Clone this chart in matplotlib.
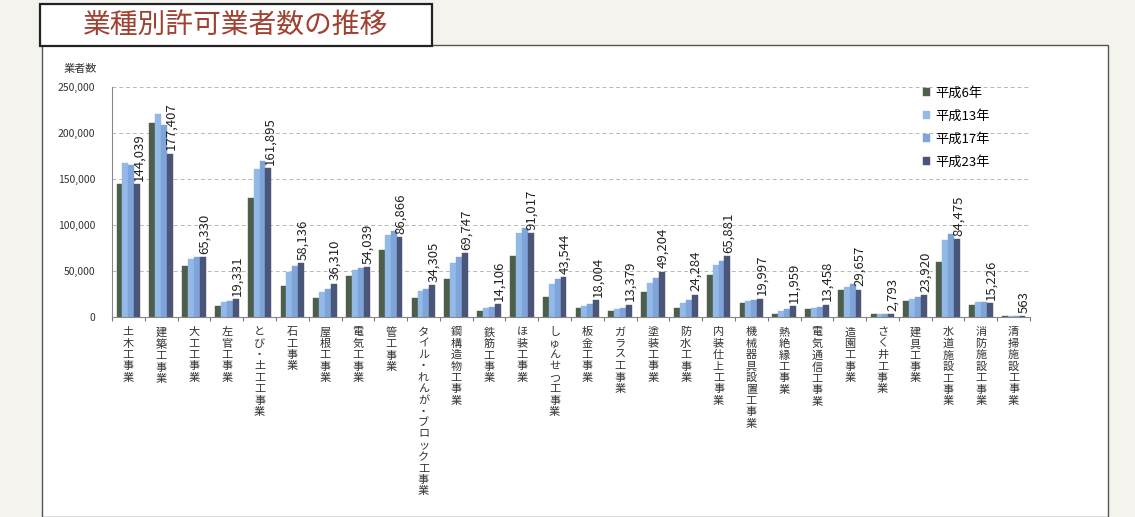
import matplotlib.pyplot as plt
import numpy as np
from matplotlib.patches import Rectangle

plt.rcParams['font.family'] = ['Noto Sans CJK JP', 'DejaVu Sans']

# 業種 (28 種)
categories = [
    '土木工事業', '建築工事業', '大工工事業', '左官工事業', 'とび・土工工事業',
    '石工事業', '屋根工事業', '電気工事業', '管工事業', 'タイル・れんが・ブロック工事業',
    '鋼構造物工事業', '鉄筋工事業', 'ほ装工事業', 'しゅんせつ工事業', '板金工事業',
    'ガラス工事業', '塗装工事業', '防水工事業', '内装仕上工事業', '機械器具設置工事業',
    '熱絶縁工事業', '電気通信工事業', '造園工事業', 'さく井工事業', '建具工事業',
    '水道施設工事業', '消防施設工事業', '清掃施設工事業',
]

series_names = ['平成6年', '平成13年', '平成17年', '平成23年']

h6 = [144000, 211000, 55600, 12300, 129700, 33600, 21000, 44400, 72600, 21000,
      40800, 6900, 66500, 22000, 9400, 6800, 27500, 9400, 45500, 14800,
      3300, 8300, 29300, 2900, 17300, 60000, 13000, 600]
h13 = [167700, 220800, 62500, 16600, 161000, 49000, 27500, 51000, 88900, 28200,
       58200, 9400, 91400, 35400, 11900, 8700, 37200, 14800, 56400, 17700,
       6800, 9400, 32900, 2800, 19500, 83500, 15900, 550]
h17 = [165000, 208900, 65400, 17700, 169000, 55300, 30400, 52800, 93600, 30400,
       65400, 10500, 96100, 40800, 14100, 9400, 41900, 18400, 61000, 18400,
       8700, 11200, 35800, 2900, 21300, 90000, 15900, 560]
h23 = [144039, 177407, 65330, 19331, 161895, 58136, 36310, 54039, 86866, 34305,
       69747, 14106, 91017, 43544, 18004, 13379, 49204, 24284, 65881, 19997,
       11959, 13458, 29657, 2793, 23920, 84475, 15226, 563]

colors = ['#4d5f4c', '#93b9e6', '#7ea4da', '#4b5577']

fig = plt.figure(figsize=(11.35, 5.17), dpi=100, facecolor='#f5f3ed')

# chart panel and title box
fig.patches.append(Rectangle((42 / 1135, 0), (1108 - 42) / 1135, 1 - 45 / 517,
                             transform=fig.transFigure, facecolor='white',
                             edgecolor='#555555', lw=1.0, zorder=-5))
fig.patches.append(Rectangle((40 / 1135, 1 - 46 / 517), (432 - 40) / 1135, 42 / 517,
                             transform=fig.transFigure, facecolor='white',
                             edgecolor='#222222', lw=1.6, zorder=-4))
fig.text(236 / 1135, 1 - 25 / 517, '業種別許可業者数の推移', ha='center', va='center',
         fontsize=20, color='#a04232')

ax = fig.add_axes([112 / 1135, 1 - 317 / 517, (1030 - 112) / 1135, (317 - 86.7) / 517])
ax.set_facecolor('none')

x = np.arange(len(categories))
width = 0.18
for i, (vals, name) in enumerate(zip([h6, h13, h17, h23], series_names)):
    ax.bar(x + (i - 1.5) * width, vals, width, color=colors[i], label=name,
           edgecolor=colors[i], linewidth=0.3, zorder=2)

# 平成23年 value labels
for xi, v in zip(x, h23):
    ax.text(xi + 1.5 * width + 0.04, v + 3500, f'{v:,}', rotation=90, ha='center',
            va='bottom', fontsize=9.5, color='#222222')

ax.set_xlim(-0.5, len(categories) - 0.5)
ax.set_ylim(0, 250000)
ax.set_yticks(range(0, 250001, 50000))
ax.set_yticklabels([f'{t:,}' for t in range(0, 250001, 50000)], fontsize=7.5, color='#333333')
ax.yaxis.grid(True, color='#b8b8b8', linestyle=(0, (4, 3)), lw=0.7, zorder=0)
ax.set_axisbelow(True)

ax.set_xticks(np.arange(-0.5, len(categories), 1.0))
ax.set_xticklabels([])
ax.tick_params(axis='x', length=3, color='#777777')
ax.tick_params(axis='y', length=0, pad=12)
for s in ['top', 'right']:
    ax.spines[s].set_visible(False)
ax.spines['left'].set_color('#888888')
ax.spines['bottom'].set_color('#888888')

# vertical category names
for xi, name in zip(x, categories):
    ax.text(xi, -0.045, '\n'.join(name), transform=ax.get_xaxis_transform(),
            ha='center', va='top', fontsize=8, linespacing=1.17, color='#333333')

ax.text(-0.035, 1.055, '業者数', transform=ax.transAxes, ha='center', va='bottom',
        fontsize=8, color='#333333')

ax.legend(loc='upper left', bbox_to_anchor=(0.87, 1.05), frameon=False,
          fontsize=9.5, handlelength=0.55, handleheight=0.55, labelspacing=0.75,
          handletextpad=0.4)

fig.savefig('out.png', dpi=100, facecolor=fig.get_facecolor())
